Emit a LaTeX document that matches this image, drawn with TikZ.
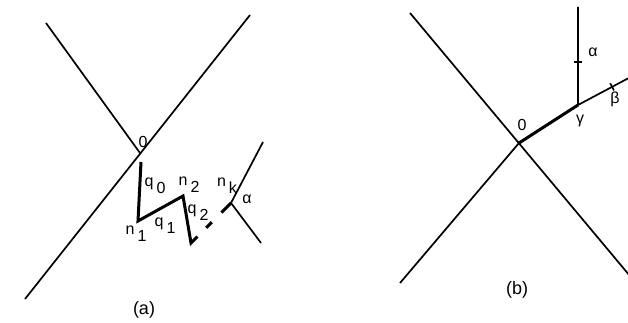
\documentclass[tikz,border=0pt]{standalone}
\usepackage{fontspec}
\setmainfont{Liberation Sans}
\usepackage{tikz}
\usetikzlibrary{calc}
\newcommand{\sublbl}[2]{#1\kern3pt\raisebox{-7pt}{#2}}

\begin{document}
\begin{tikzpicture}[
    x=1pt, y=-1pt,
    axis/.style={line width=1.7pt, black},
    walk/.style={line width=3pt, black},
    lbl/.style={font=\fontsize{16}{18}\selectfont, inner sep=0pt},
    caption/.style={font=\fontsize{18}{20}\selectfont, inner sep=0pt}
]
\useasboundingbox (0,0) rectangle (628,323);

% (a) crossing lines
\coordinate (ao) at (140,153);
\coordinate (anw) at (46,23);
\coordinate (ane) at (250,15);
\coordinate (asw) at (25,299);
\draw[axis] (anw) -- (ao);
\draw[axis] (ane) -- (asw);

% (a) walk
\coordinate (a0) at (141,162);
\coordinate (n1) at (138,221);
\coordinate (n2) at (183,196);
\coordinate (a3) at (191,243);
\coordinate (nk) at (231,203);
\draw[walk] (a0) -- (n1) -- (n2) -- (a3) -- ($(a3)!0.16!(nk)$);
\draw[walk] ($(a3)!0.38!(nk)$) -- ($(a3)!0.52!(nk)$);
\draw[walk] ($(a3)!0.76!(nk)$) -- (nk);

% (a) wedge alpha
\coordinate (wt) at (263,142);
\coordinate (wb) at (261,243);
\draw[axis] (wt) -- (nk) -- (wb);

% (a) labels
\node[lbl] (lo) at (143,142) {0};
\node[lbl] (lq0) at (155,186) {\sublbl{q}{0}};
\node[lbl] (ln2) at (189,185) {\sublbl{n}{2}};
\node[lbl] (ln1) at (136,234) {\sublbl{n}{1}};
\node[lbl] (lq1) at (165,226) {\sublbl{q}{1}};
\node[lbl] (lq2) at (198,213) {\sublbl{q}{2}};
\node[lbl] (lnk) at (227,186) {\sublbl{n}{k}};
\node[lbl] (lal) at (247,199) {α};
\node[caption] (capa) at (144,310) {(a)};

% (b) crossing lines
\coordinate (bo) at (519,143);
\coordinate (bnw) at (410,13);
\coordinate (bse) at (640,288);
\coordinate (bsw) at (400,283);
\draw[axis] (bnw) -- (bse);
\draw[axis] (bsw) -- (bo);

% (b) path
\coordinate (bg) at (578,105);
\coordinate (btop) at (578,7);
\coordinate (bend) at (640,72);
\draw[walk] (bo) -- (bg);
\draw[axis] (btop) -- (bg) -- (bend);
\draw[axis] ($(btop)!0.56!(bg)+(-4,0)$) -- ($(btop)!0.56!(bg)+(4,0)$);
\coordinate (bt) at ($(bg)!0.55!(bend)$);
\draw[axis] ($(bt)!4pt!90:(bend)$) -- ($(bt)!4pt!-90:(bend)$);

% (b) labels
\node[lbl] (lbo) at (522,125) {0};
\node[lbl] (lga) at (580,121) {γ};
\node[lbl] (lbal) at (593,52) {α};
\node[lbl] (lbe) at (615,99) {β};
\node[caption] (capb) at (517,290) {(b)};

\end{tikzpicture}
\end{document}
